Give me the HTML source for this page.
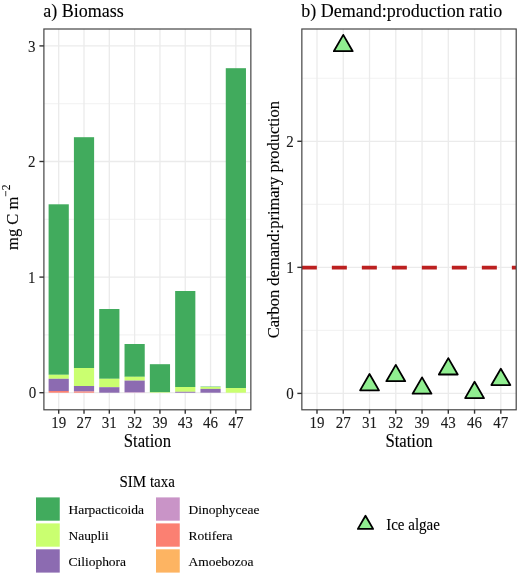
<!DOCTYPE html>
<html><head><meta charset="utf-8"><style>
html,body{margin:0;padding:0;background:#fff;}
body{width:520px;height:575px;overflow:hidden;}
svg{display:block;font-family:"Liberation Serif", serif;will-change:transform;}
text{stroke:currentColor;stroke-width:0.1px;}
</style></head><body>
<svg width="520" height="575" viewBox="0 0 520 575">
<rect x="0" y="0" width="520" height="575" fill="#fff"/>
<clipPath id="cl"><rect x="43.9" y="29.0" width="206.95" height="380.8"/></clipPath>
<g clip-path="url(#cl)">
<line x1="43.9" x2="250.85" y1="334.90" y2="334.90" stroke="#EBEBEB" stroke-width="0.7"/>
<line x1="43.9" x2="250.85" y1="219.30" y2="219.30" stroke="#EBEBEB" stroke-width="0.7"/>
<line x1="43.9" x2="250.85" y1="103.70" y2="103.70" stroke="#EBEBEB" stroke-width="0.7"/>
<line x1="43.9" x2="250.85" y1="392.70" y2="392.70" stroke="#EBEBEB" stroke-width="1.3"/>
<line x1="43.9" x2="250.85" y1="277.10" y2="277.10" stroke="#EBEBEB" stroke-width="1.3"/>
<line x1="43.9" x2="250.85" y1="161.50" y2="161.50" stroke="#EBEBEB" stroke-width="1.3"/>
<line x1="43.9" x2="250.85" y1="45.90" y2="45.90" stroke="#EBEBEB" stroke-width="1.3"/>
<line x1="58.70" x2="58.70" y1="29.0" y2="409.8" stroke="#EBEBEB" stroke-width="1.3"/>
<line x1="84.01" x2="84.01" y1="29.0" y2="409.8" stroke="#EBEBEB" stroke-width="1.3"/>
<line x1="109.32" x2="109.32" y1="29.0" y2="409.8" stroke="#EBEBEB" stroke-width="1.3"/>
<line x1="134.63" x2="134.63" y1="29.0" y2="409.8" stroke="#EBEBEB" stroke-width="1.3"/>
<line x1="159.94" x2="159.94" y1="29.0" y2="409.8" stroke="#EBEBEB" stroke-width="1.3"/>
<line x1="185.25" x2="185.25" y1="29.0" y2="409.8" stroke="#EBEBEB" stroke-width="1.3"/>
<line x1="210.56" x2="210.56" y1="29.0" y2="409.8" stroke="#EBEBEB" stroke-width="1.3"/>
<line x1="235.87" x2="235.87" y1="29.0" y2="409.8" stroke="#EBEBEB" stroke-width="1.3"/>
<rect x="48.60" y="204.30" width="20.20" height="170.50" fill="#41AB5D"/>
<rect x="48.60" y="374.80" width="20.20" height="4.00" fill="#CAFF70"/>
<rect x="48.60" y="378.80" width="20.20" height="12.20" fill="#8C6BB1"/>
<rect x="48.60" y="391.00" width="20.20" height="1.70" fill="#FB8072"/>
<rect x="73.91" y="137.20" width="20.20" height="230.80" fill="#41AB5D"/>
<rect x="73.91" y="368.00" width="20.20" height="18.00" fill="#CAFF70"/>
<rect x="73.91" y="386.00" width="20.20" height="5.50" fill="#8C6BB1"/>
<rect x="73.91" y="391.50" width="20.20" height="1.20" fill="#FB8072"/>
<rect x="99.22" y="309.00" width="20.20" height="69.80" fill="#41AB5D"/>
<rect x="99.22" y="378.80" width="20.20" height="8.40" fill="#CAFF70"/>
<rect x="99.22" y="387.20" width="20.20" height="5.50" fill="#8C6BB1"/>
<rect x="124.53" y="344.00" width="20.20" height="32.80" fill="#41AB5D"/>
<rect x="124.53" y="376.80" width="20.20" height="3.80" fill="#CAFF70"/>
<rect x="124.53" y="380.60" width="20.20" height="11.60" fill="#8C6BB1"/>
<rect x="124.53" y="392.20" width="20.20" height="0.50" fill="#C994C7"/>
<rect x="149.84" y="364.20" width="20.20" height="28.00" fill="#41AB5D"/>
<rect x="149.84" y="392.20" width="20.20" height="0.50" fill="#CAFF70"/>
<rect x="175.15" y="291.00" width="20.20" height="96.00" fill="#41AB5D"/>
<rect x="175.15" y="387.00" width="20.20" height="4.80" fill="#CAFF70"/>
<rect x="175.15" y="391.80" width="20.20" height="0.90" fill="#8C6BB1"/>
<rect x="200.46" y="386.60" width="20.20" height="0.40" fill="#41AB5D"/>
<rect x="200.46" y="387.00" width="20.20" height="1.90" fill="#CAFF70"/>
<rect x="200.46" y="388.90" width="20.20" height="3.80" fill="#8C6BB1"/>
<rect x="225.77" y="68.20" width="20.20" height="319.80" fill="#41AB5D"/>
<rect x="225.77" y="388.00" width="20.20" height="4.70" fill="#CAFF70"/>
</g>
<rect x="43.9" y="29.0" width="206.95" height="380.80" fill="none" stroke="#444444" stroke-width="1.2"/>
<line x1="39.40" x2="43.9" y1="392.70" y2="392.70" stroke="#333" stroke-width="1.4"/>
<text transform="translate(36.30,398.30) scale(1,1.07)" font-size="15" fill="#1a1a1a" color="#1a1a1a" text-anchor="end">0</text>
<line x1="39.40" x2="43.9" y1="277.10" y2="277.10" stroke="#333" stroke-width="1.4"/>
<text transform="translate(35.60,282.70) scale(1,1.07)" font-size="15" fill="#1a1a1a" color="#1a1a1a" text-anchor="end">1</text>
<line x1="39.40" x2="43.9" y1="161.50" y2="161.50" stroke="#333" stroke-width="1.4"/>
<text transform="translate(35.60,167.10) scale(1,1.07)" font-size="15" fill="#1a1a1a" color="#1a1a1a" text-anchor="end">2</text>
<line x1="39.40" x2="43.9" y1="45.90" y2="45.90" stroke="#333" stroke-width="1.4"/>
<text transform="translate(35.60,51.50) scale(1,1.07)" font-size="15" fill="#1a1a1a" color="#1a1a1a" text-anchor="end">3</text>
<line x1="58.70" x2="58.70" y1="409.8" y2="413.70" stroke="#333" stroke-width="1.4"/>
<text transform="translate(58.70,427.60) scale(1,1.07)" font-size="15" fill="#1a1a1a" color="#1a1a1a" text-anchor="middle">19</text>
<line x1="84.01" x2="84.01" y1="409.8" y2="413.70" stroke="#333" stroke-width="1.4"/>
<text transform="translate(84.01,427.60) scale(1,1.07)" font-size="15" fill="#1a1a1a" color="#1a1a1a" text-anchor="middle">27</text>
<line x1="109.32" x2="109.32" y1="409.8" y2="413.70" stroke="#333" stroke-width="1.4"/>
<text transform="translate(109.32,427.60) scale(1,1.07)" font-size="15" fill="#1a1a1a" color="#1a1a1a" text-anchor="middle">31</text>
<line x1="134.63" x2="134.63" y1="409.8" y2="413.70" stroke="#333" stroke-width="1.4"/>
<text transform="translate(134.63,427.60) scale(1,1.07)" font-size="15" fill="#1a1a1a" color="#1a1a1a" text-anchor="middle">32</text>
<line x1="159.94" x2="159.94" y1="409.8" y2="413.70" stroke="#333" stroke-width="1.4"/>
<text transform="translate(159.94,427.60) scale(1,1.07)" font-size="15" fill="#1a1a1a" color="#1a1a1a" text-anchor="middle">39</text>
<line x1="185.25" x2="185.25" y1="409.8" y2="413.70" stroke="#333" stroke-width="1.4"/>
<text transform="translate(185.25,427.60) scale(1,1.07)" font-size="15" fill="#1a1a1a" color="#1a1a1a" text-anchor="middle">43</text>
<line x1="210.56" x2="210.56" y1="409.8" y2="413.70" stroke="#333" stroke-width="1.4"/>
<text transform="translate(210.56,427.60) scale(1,1.07)" font-size="15" fill="#1a1a1a" color="#1a1a1a" text-anchor="middle">46</text>
<line x1="235.87" x2="235.87" y1="409.8" y2="413.70" stroke="#333" stroke-width="1.4"/>
<text transform="translate(235.87,427.60) scale(1,1.07)" font-size="15" fill="#1a1a1a" color="#1a1a1a" text-anchor="middle">47</text>
<text transform="translate(147.38,446.50) scale(1,1.07)" font-size="16.7" fill="#000" color="#000" text-anchor="middle">Station</text>
<text x="43.3" y="16.9" font-size="18">a) Biomass</text>
<g transform="translate(17.8,249.9) rotate(-90) scale(1,1.05)"><text x="0" y="0" font-size="16.5">mg C m<tspan dy="-7" font-size="11.5">−2</tspan></text></g>
<clipPath id="cr"><rect x="301.85" y="29.0" width="214.35" height="380.80"/></clipPath>
<g clip-path="url(#cr)">
<line x1="301.85" x2="516.2" y1="330.38" y2="330.38" stroke="#EBEBEB" stroke-width="0.7"/>
<line x1="301.85" x2="516.2" y1="204.32" y2="204.32" stroke="#EBEBEB" stroke-width="0.7"/>
<line x1="301.85" x2="516.2" y1="78.27" y2="78.27" stroke="#EBEBEB" stroke-width="0.7"/>
<line x1="301.85" x2="516.2" y1="393.40" y2="393.40" stroke="#EBEBEB" stroke-width="1.3"/>
<line x1="301.85" x2="516.2" y1="267.35" y2="267.35" stroke="#EBEBEB" stroke-width="1.3"/>
<line x1="301.85" x2="516.2" y1="141.30" y2="141.30" stroke="#EBEBEB" stroke-width="1.3"/>
<line x1="317.00" x2="317.00" y1="29.0" y2="409.8" stroke="#EBEBEB" stroke-width="1.3"/>
<line x1="343.26" x2="343.26" y1="29.0" y2="409.8" stroke="#EBEBEB" stroke-width="1.3"/>
<line x1="369.52" x2="369.52" y1="29.0" y2="409.8" stroke="#EBEBEB" stroke-width="1.3"/>
<line x1="395.78" x2="395.78" y1="29.0" y2="409.8" stroke="#EBEBEB" stroke-width="1.3"/>
<line x1="422.04" x2="422.04" y1="29.0" y2="409.8" stroke="#EBEBEB" stroke-width="1.3"/>
<line x1="448.30" x2="448.30" y1="29.0" y2="409.8" stroke="#EBEBEB" stroke-width="1.3"/>
<line x1="474.56" x2="474.56" y1="29.0" y2="409.8" stroke="#EBEBEB" stroke-width="1.3"/>
<line x1="500.82" x2="500.82" y1="29.0" y2="409.8" stroke="#EBEBEB" stroke-width="1.3"/>
<line x1="301.85" x2="516.2" y1="267.65" y2="267.65" stroke="#BC2020" stroke-width="3.8" stroke-dasharray="15 15"/>
<polygon points="343.26,34.85 352.70,51.20 333.82,51.20" fill="#90EE90" stroke="#000" stroke-width="1.8" stroke-linejoin="round"/>
<polygon points="369.52,374.00 378.96,390.35 360.08,390.35" fill="#90EE90" stroke="#000" stroke-width="1.8" stroke-linejoin="round"/>
<polygon points="395.78,364.85 405.22,381.20 386.34,381.20" fill="#90EE90" stroke="#000" stroke-width="1.8" stroke-linejoin="round"/>
<polygon points="422.04,377.35 431.48,393.70 412.60,393.70" fill="#90EE90" stroke="#000" stroke-width="1.8" stroke-linejoin="round"/>
<polygon points="448.30,358.15 457.74,374.50 438.86,374.50" fill="#90EE90" stroke="#000" stroke-width="1.8" stroke-linejoin="round"/>
<polygon points="474.56,381.75 484.00,398.10 465.12,398.10" fill="#90EE90" stroke="#000" stroke-width="1.8" stroke-linejoin="round"/>
<polygon points="500.82,368.70 510.26,385.05 491.38,385.05" fill="#90EE90" stroke="#000" stroke-width="1.8" stroke-linejoin="round"/>
</g>
<rect x="301.85" y="29.0" width="214.35" height="380.80" fill="none" stroke="#444444" stroke-width="1.2"/>
<line x1="297.35" x2="301.85" y1="393.40" y2="393.40" stroke="#333" stroke-width="1.4"/>
<text transform="translate(293.75,398.60) scale(1,1.07)" font-size="15" fill="#1a1a1a" color="#1a1a1a" text-anchor="end">0</text>
<line x1="297.35" x2="301.85" y1="267.35" y2="267.35" stroke="#333" stroke-width="1.4"/>
<text transform="translate(293.75,272.55) scale(1,1.07)" font-size="15" fill="#1a1a1a" color="#1a1a1a" text-anchor="end">1</text>
<line x1="297.35" x2="301.85" y1="141.30" y2="141.30" stroke="#333" stroke-width="1.4"/>
<text transform="translate(293.75,146.50) scale(1,1.07)" font-size="15" fill="#1a1a1a" color="#1a1a1a" text-anchor="end">2</text>
<line x1="317.00" x2="317.00" y1="409.8" y2="413.70" stroke="#333" stroke-width="1.4"/>
<text transform="translate(317.00,427.60) scale(1,1.07)" font-size="15" fill="#1a1a1a" color="#1a1a1a" text-anchor="middle">19</text>
<line x1="343.26" x2="343.26" y1="409.8" y2="413.70" stroke="#333" stroke-width="1.4"/>
<text transform="translate(343.26,427.60) scale(1,1.07)" font-size="15" fill="#1a1a1a" color="#1a1a1a" text-anchor="middle">27</text>
<line x1="369.52" x2="369.52" y1="409.8" y2="413.70" stroke="#333" stroke-width="1.4"/>
<text transform="translate(369.52,427.60) scale(1,1.07)" font-size="15" fill="#1a1a1a" color="#1a1a1a" text-anchor="middle">31</text>
<line x1="395.78" x2="395.78" y1="409.8" y2="413.70" stroke="#333" stroke-width="1.4"/>
<text transform="translate(395.78,427.60) scale(1,1.07)" font-size="15" fill="#1a1a1a" color="#1a1a1a" text-anchor="middle">32</text>
<line x1="422.04" x2="422.04" y1="409.8" y2="413.70" stroke="#333" stroke-width="1.4"/>
<text transform="translate(422.04,427.60) scale(1,1.07)" font-size="15" fill="#1a1a1a" color="#1a1a1a" text-anchor="middle">39</text>
<line x1="448.30" x2="448.30" y1="409.8" y2="413.70" stroke="#333" stroke-width="1.4"/>
<text transform="translate(448.30,427.60) scale(1,1.07)" font-size="15" fill="#1a1a1a" color="#1a1a1a" text-anchor="middle">43</text>
<line x1="474.56" x2="474.56" y1="409.8" y2="413.70" stroke="#333" stroke-width="1.4"/>
<text transform="translate(474.56,427.60) scale(1,1.07)" font-size="15" fill="#1a1a1a" color="#1a1a1a" text-anchor="middle">46</text>
<line x1="500.82" x2="500.82" y1="409.8" y2="413.70" stroke="#333" stroke-width="1.4"/>
<text transform="translate(500.82,427.60) scale(1,1.07)" font-size="15" fill="#1a1a1a" color="#1a1a1a" text-anchor="middle">47</text>
<text transform="translate(409.03,446.50) scale(1,1.07)" font-size="16.7" fill="#000" color="#000" text-anchor="middle">Station</text>
<text x="301.2" y="16.9" font-size="18">b) Demand:production ratio</text>
<g transform="translate(279.2,219.70) rotate(-90) scale(1,1.05)"><text x="0" y="0" text-anchor="middle" font-size="16.5">Carbon demand:primary production</text></g>
<text transform="translate(147.20,487.10) scale(1,1.06)" font-size="15" fill="#000" color="#000" text-anchor="middle">SIM taxa</text>
<rect x="36" y="497.4" width="23.75" height="23.3" fill="#41AB5D"/>
<text transform="translate(68.40,513.90) scale(1,0.95)" font-size="13.5" fill="#000" color="#000">Harpacticoida</text>
<rect x="36" y="523.4" width="23.75" height="23.3" fill="#CAFF70"/>
<text transform="translate(68.40,539.90) scale(1,0.95)" font-size="13.5" fill="#000" color="#000">Nauplii</text>
<rect x="36" y="549.3" width="23.75" height="23.3" fill="#8C6BB1"/>
<text transform="translate(68.40,565.80) scale(1,0.95)" font-size="13.5" fill="#000" color="#000">Ciliophora</text>
<rect x="156" y="497.4" width="23.75" height="23.3" fill="#C994C7"/>
<text transform="translate(188.40,513.90) scale(1,0.95)" font-size="13.5" fill="#000" color="#000">Dinophyceae</text>
<rect x="156" y="523.4" width="23.75" height="23.3" fill="#FB8072"/>
<text transform="translate(188.40,539.90) scale(1,0.95)" font-size="13.5" fill="#000" color="#000">Rotifera</text>
<rect x="156" y="549.3" width="23.75" height="23.3" fill="#FDB462"/>
<text transform="translate(188.40,565.80) scale(1,0.95)" font-size="13.5" fill="#000" color="#000">Amoebozoa</text>
<polygon points="365.50,515.70 373.12,528.90 357.88,528.90" fill="#90EE90" stroke="#000" stroke-width="1.8" stroke-linejoin="round"/>
<text transform="translate(386.20,529.80) scale(1,1.07)" font-size="15" fill="#000" color="#000">Ice algae</text>
</svg>
</body></html>
